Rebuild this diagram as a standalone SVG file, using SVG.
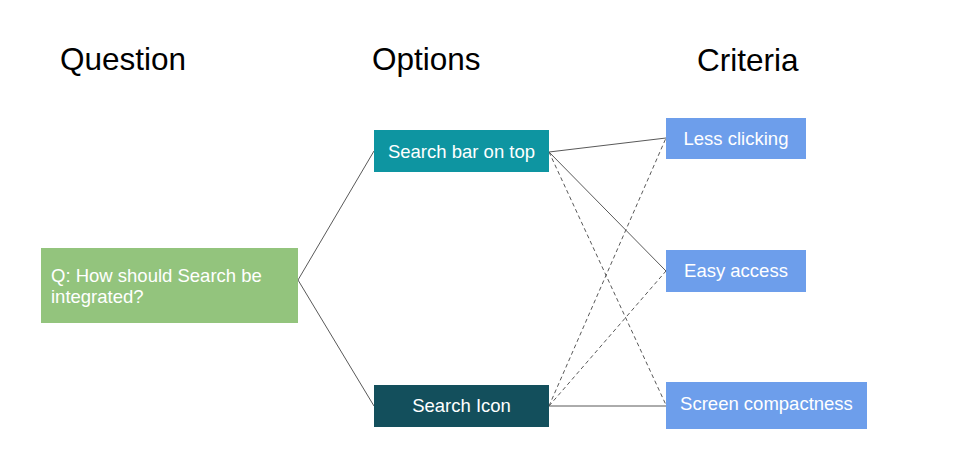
<svg xmlns="http://www.w3.org/2000/svg" width="960" height="466" viewBox="0 0 960 466">
<style>
.hdr{font-family:"Liberation Sans",Arial,sans-serif;font-size:31.5px;fill:#000}
.lbl{font-family:"Liberation Sans",Arial,sans-serif;font-size:18.5px;fill:#fff}
.mid{text-anchor:middle}
.ln{stroke:#595959;stroke-width:1;fill:none}
.dash{stroke-dasharray:4 3}
</style>
<rect width="960" height="466" fill="#fff"/>
<g id="headers">
<text class="hdr" x="60" y="70">Question</text>
<text class="hdr" x="372" y="70">Options</text>
<text class="hdr" x="697" y="71">Criteria</text>
</g>
<g id="connectors">
<line class="ln" x1="298" y1="280" x2="374" y2="151"/>
<line class="ln" x1="298" y1="280" x2="374" y2="406"/>
<line class="ln" x1="549" y1="152" x2="666" y2="138"/>
<line class="ln" x1="549" y1="152" x2="666" y2="271"/>
<line class="ln dash" x1="549" y1="152" x2="666" y2="405"/>
<line class="ln" x1="549" y1="406" x2="666" y2="406"/>
<line class="ln dash" x1="549" y1="406" x2="666" y2="138"/>
<line class="ln dash" x1="549" y1="406" x2="666" y2="271"/>
</g>
<g id="question">
<rect x="41" y="248" width="257" height="75" fill="#93c47d"/>
<text class="lbl" x="51" y="282">Q: How should Search be</text>
<text class="lbl" x="51" y="303">integrated?</text>
</g>
<g id="search-bar">
<rect x="374" y="130" width="175" height="42" fill="#0e95a1"/>
<text class="lbl mid" x="461.5" y="158">Search bar on top</text>
</g>
<g id="search-icon">
<rect x="374" y="385" width="175" height="42" fill="#134f5c"/>
<text class="lbl mid" x="461.5" y="412">Search Icon</text>
</g>
<g id="less-clicking">
<rect x="666" y="118" width="140" height="41" fill="#6d9eeb"/>
<text class="lbl mid" x="736" y="145">Less clicking</text>
</g>
<g id="easy-access">
<rect x="666" y="250" width="140" height="42" fill="#6d9eeb"/>
<text class="lbl mid" x="736" y="277">Easy access</text>
</g>
<g id="screen-compactness">
<rect x="666" y="382" width="201" height="47" fill="#6d9eeb"/>
<text class="lbl mid" x="766.5" y="410">Screen compactness</text>
</g>
</svg>
